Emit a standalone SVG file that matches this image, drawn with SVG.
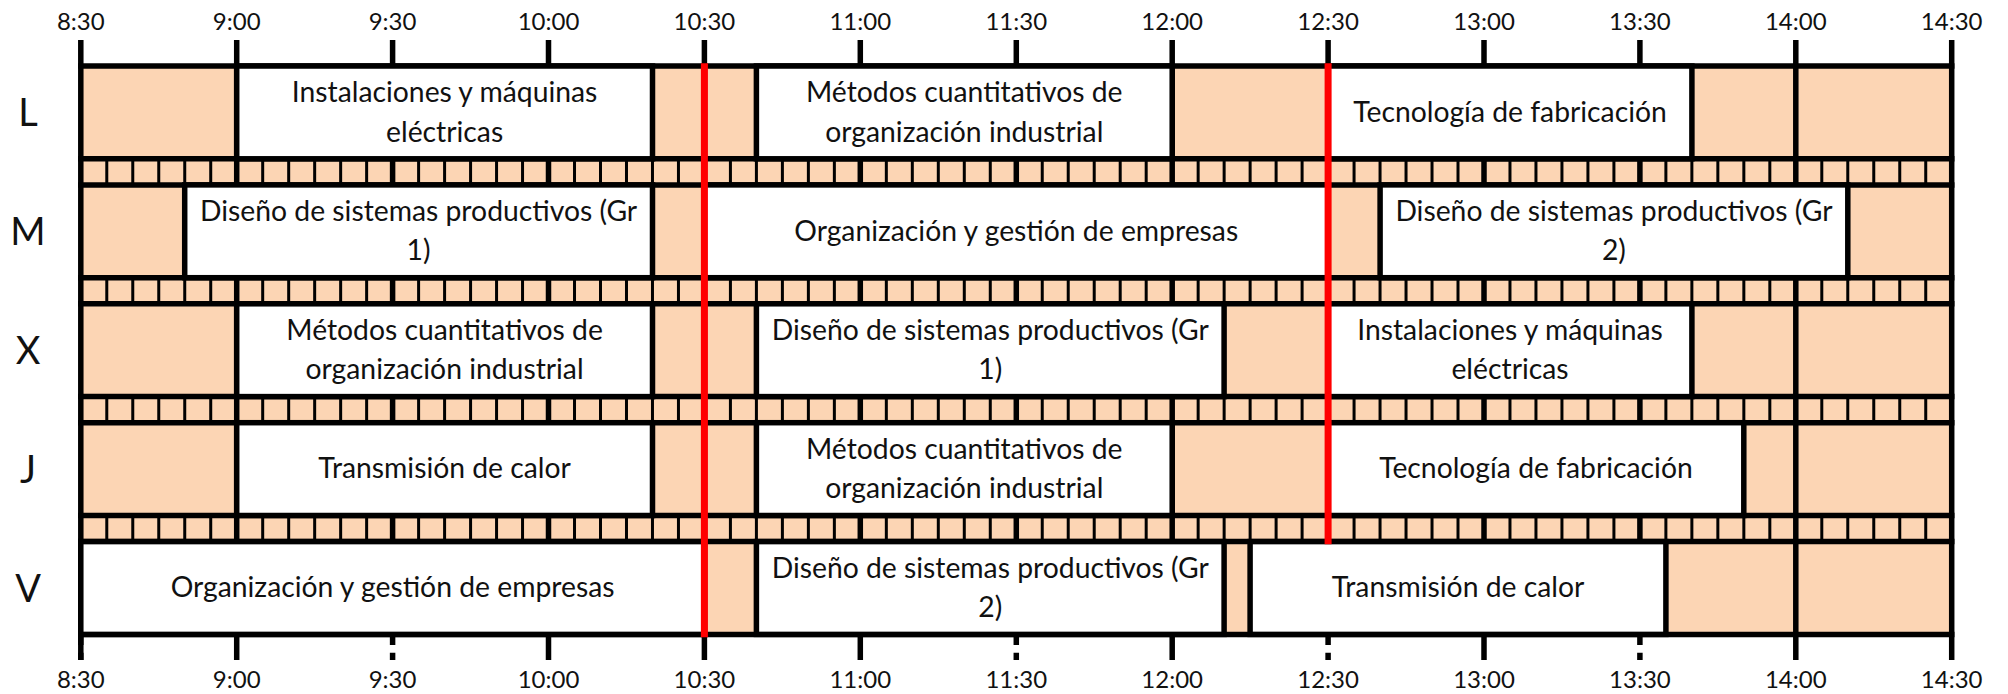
<svg xmlns="http://www.w3.org/2000/svg" width="2008" height="694" viewBox="0 0 2008 694">
<style>
.bg{fill:#FCD5B4}
.ln{stroke:#000;stroke-width:5.5;fill:none}
.blk{fill:#fff;stroke:#000;stroke-width:5.5}
.red{stroke:#FF0000;stroke-width:7;fill:none}
.t{font-family:Lato,"Liberation Sans",sans-serif;font-size:28.3px;fill:#111;text-anchor:middle}
.tm{font-family:Lato,"Liberation Sans",sans-serif;font-size:24px;fill:#111;text-anchor:middle}
.rl{font-family:Lato,"Liberation Sans",sans-serif;font-size:38px;fill:#111;text-anchor:middle}
.cell{stroke:#000;stroke-width:26;stroke-dasharray:3 22.985;fill:none}
</style>
<rect width="2008" height="694" fill="#fff"/>
<rect class="bg" x="80.8" y="66" width="1870.9" height="568.4"/>
<g id="strips">
<path class="cell" d="M79.3 171.85H1953.2M79.3 290.75H1953.2M79.3 409.65H1953.2M79.3 528.55H1953.2"/>
</g>
<g id="grid">
<path class="ln" d="M80.8 40V660M236.7 40V660M392.6 40V634.4M548.5 40V660M704.4 40V660M860.3 40V660M1016.3 40V634.4M1172.2 40V660M1328.1 40V634.4M1484 40V660M1639.9 40V634.4M1795.8 40V660M1951.7 40V660"/>
<path class="ln" d="M80.8 634.4V645M80.8 652.7V660M392.6 634.4V645M392.6 652.7V660M1016.3 634.4V645M1016.3 652.7V660M1328.1 634.4V645M1328.1 652.7V660M1639.9 634.4V645M1639.9 652.7V660"/>
<path class="ln" d="M78.05 66H1954.45M78.05 158.8H1954.45M78.05 184.9H1954.45M78.05 277.7H1954.45M78.05 303.8H1954.45M78.05 396.6H1954.45M78.05 422.7H1954.45M78.05 515.5H1954.45M78.05 541.6H1954.45M78.05 634.4H1954.45"/>
</g>
<g id="times-top">
<text class="tm" x="80.8" y="30">8:30</text>
<text class="tm" x="236.7" y="30">9:00</text>
<text class="tm" x="392.6" y="30">9:30</text>
<text class="tm" x="548.5" y="30">10:00</text>
<text class="tm" x="704.4" y="30">10:30</text>
<text class="tm" x="860.3" y="30">11:00</text>
<text class="tm" x="1016.3" y="30">11:30</text>
<text class="tm" x="1172.2" y="30">12:00</text>
<text class="tm" x="1328.1" y="30">12:30</text>
<text class="tm" x="1484" y="30">13:00</text>
<text class="tm" x="1639.9" y="30">13:30</text>
<text class="tm" x="1795.8" y="30">14:00</text>
<text class="tm" x="1951.7" y="30">14:30</text>
</g>
<g id="times-bottom">
<text class="tm" x="80.8" y="688">8:30</text>
<text class="tm" x="236.7" y="688">9:00</text>
<text class="tm" x="392.6" y="688">9:30</text>
<text class="tm" x="548.5" y="688">10:00</text>
<text class="tm" x="704.4" y="688">10:30</text>
<text class="tm" x="860.3" y="688">11:00</text>
<text class="tm" x="1016.3" y="688">11:30</text>
<text class="tm" x="1172.2" y="688">12:00</text>
<text class="tm" x="1328.1" y="688">12:30</text>
<text class="tm" x="1484" y="688">13:00</text>
<text class="tm" x="1639.9" y="688">13:30</text>
<text class="tm" x="1795.8" y="688">14:00</text>
<text class="tm" x="1951.7" y="688">14:30</text>
</g>
<g id="days">
<text class="rl" x="28" y="126">L</text>
<text class="rl" x="28" y="245">M</text>
<text class="rl" x="28" y="364">X</text>
<text class="rl" x="28" y="483">J</text>
<text class="rl" x="28" y="602">V</text>
</g>
<g id="L-1"><rect class="blk" x="236.7" y="66" width="415.8" height="92.8"/><text class="t" x="444.6" y="102.1">Instalaciones y máquinas</text><text class="t" x="444.6" y="141.5">eléctricas</text></g>
<g id="L-2"><rect class="blk" x="756.4" y="66" width="415.8" height="92.8"/><text class="t" x="964.3" y="102.1">Métodos cuantitativos de</text><text class="t" x="964.3" y="141.5">organización industrial</text></g>
<g id="L-3"><rect class="blk" x="1328.1" y="66" width="363.8" height="92.8"/><text class="t" x="1510" y="121.7">Tecnología de fabricación</text></g>
<g id="M-1"><rect class="blk" x="184.7" y="184.9" width="467.8" height="92.8"/><text class="t" x="418.6" y="221">Diseño de sistemas productivos (Gr</text><text class="t" x="418.6" y="260.4">1)</text></g>
<g id="M-2"><rect class="blk" x="704.4" y="184.9" width="623.7" height="92.8"/><text class="t" x="1016.25" y="240.6">Organización y gestión de empresas</text></g>
<g id="M-3"><rect class="blk" x="1380.1" y="184.9" width="467.7" height="92.8"/><text class="t" x="1613.95" y="221">Diseño de sistemas productivos (Gr</text><text class="t" x="1613.95" y="260.4">2)</text></g>
<g id="X-1"><rect class="blk" x="236.7" y="303.8" width="415.8" height="92.8"/><text class="t" x="444.6" y="339.9">Métodos cuantitativos de</text><text class="t" x="444.6" y="379.3">organización industrial</text></g>
<g id="X-2"><rect class="blk" x="756.4" y="303.8" width="467.7" height="92.8"/><text class="t" x="990.25" y="339.9">Diseño de sistemas productivos (Gr</text><text class="t" x="990.25" y="379.3">1)</text></g>
<g id="X-3"><rect class="blk" x="1328.1" y="303.8" width="363.8" height="92.8"/><text class="t" x="1510" y="339.9">Instalaciones y máquinas</text><text class="t" x="1510" y="379.3">eléctricas</text></g>
<g id="J-1"><rect class="blk" x="236.7" y="422.7" width="415.8" height="92.8"/><text class="t" x="444.6" y="478.4">Transmisión de calor</text></g>
<g id="J-2"><rect class="blk" x="756.4" y="422.7" width="415.8" height="92.8"/><text class="t" x="964.3" y="458.8">Métodos cuantitativos de</text><text class="t" x="964.3" y="498.2">organización industrial</text></g>
<g id="J-3"><rect class="blk" x="1328.1" y="422.7" width="415.7" height="92.8"/><text class="t" x="1535.95" y="478.4">Tecnología de fabricación</text></g>
<g id="V-1"><rect class="blk" x="80.8" y="541.6" width="623.6" height="92.8"/><text class="t" x="392.6" y="597.3">Organización y gestión de empresas</text></g>
<g id="V-2"><rect class="blk" x="756.4" y="541.6" width="467.7" height="92.8"/><text class="t" x="990.25" y="577.7">Diseño de sistemas productivos (Gr</text><text class="t" x="990.25" y="617.1">2)</text></g>
<g id="V-3"><rect class="blk" x="1250.1" y="541.6" width="415.8" height="92.8"/><text class="t" x="1458" y="597.3">Transmisión de calor</text></g>
<g id="breaks">
<path class="red" d="M704.4 63.25V637.15M1328.1 63.25V544.35"/>
</g>
</svg>
